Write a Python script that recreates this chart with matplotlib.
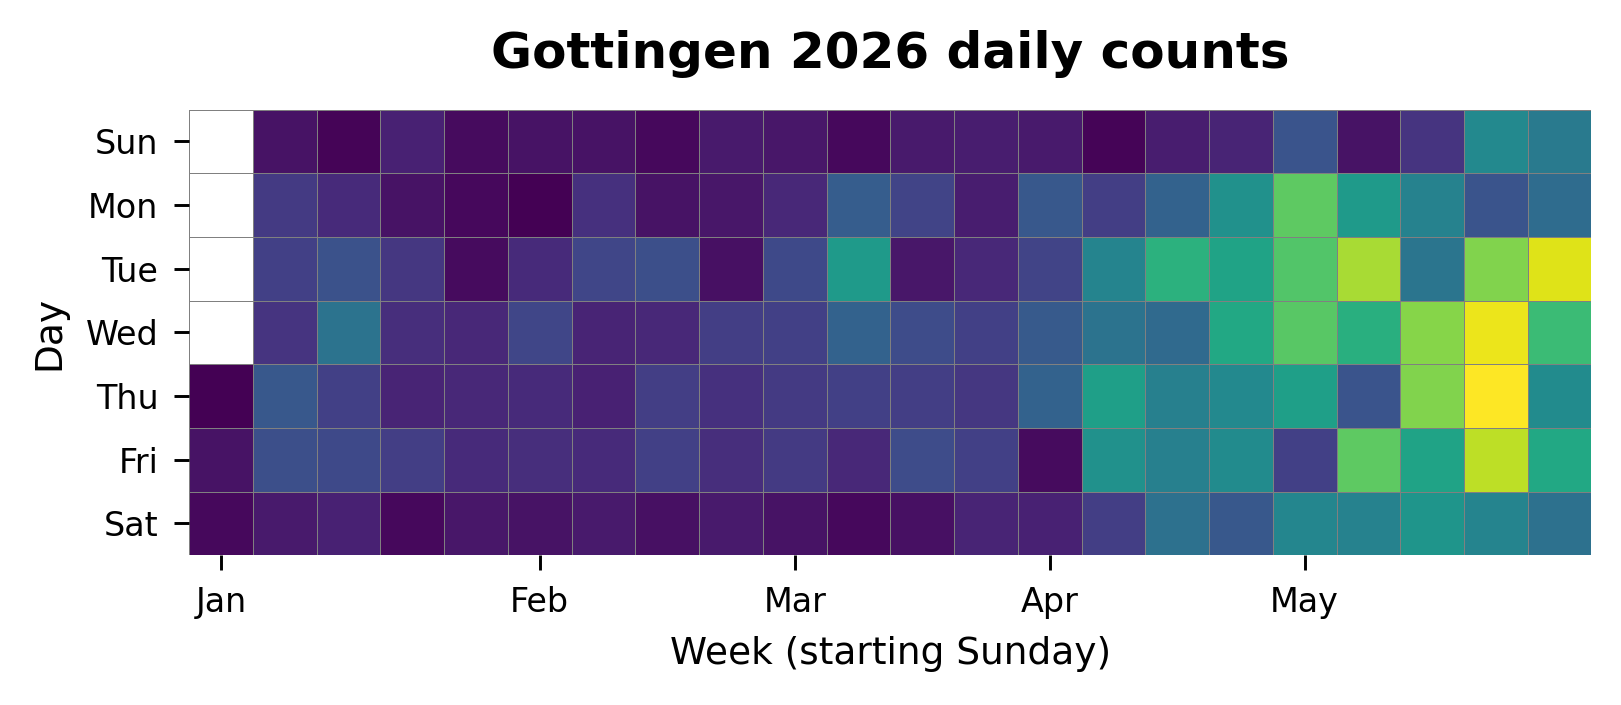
import numpy as np
import pandas as pd
import matplotlib
matplotlib.use("Agg")
import matplotlib.pyplot as plt

# daily counts per weekday, one value per week (week starts Sunday 2025-12-28)
nan = np.nan
sun = [nan, 5, 1, 9, 3, 5, 5, 2, 7, 6, 2, 7, 8, 7, 1, 8, 10, 26, 5, 15, 47, 41]
mon = [nan, 17, 12, 5, 2, 0, 14, 5, 6, 11, 29, 20, 8, 27, 18, 31, 50, 75, 54, 44, 26, 35]
tue = [nan, 19, 25, 16, 3, 12, 21, 24, 4, 22, 54, 6, 11, 20, 45, 64, 58, 73, 87, 39, 81, 95]
wed = [nan, 15, 38, 13, 11, 21, 10, 11, 18, 19, 31, 23, 19, 28, 38, 34, 60, 74, 63, 82, 97, 68]
thu = [0, 27, 19, 10, 11, 12, 9, 18, 14, 17, 19, 18, 16, 31, 56, 43, 47, 56, 26, 81, 100, 48]
fri = [5, 24, 22, 18, 12, 13, 12, 19, 13, 17, 11, 23, 19, 3, 50, 43, 48, 19, 75, 58, 90, 60]
sat = [2, 7, 9, 2, 6, 5, 7, 4, 7, 5, 2, 4, 10, 9, 18, 37, 27, 46, 44, 52, 45, 37]

day_labels = ["Sun", "Mon", "Tue", "Wed", "Thu", "Fri", "Sat"]
month_labels = ["Jan", "Feb", "Mar", "Apr", "May"]
first_week = pd.Timestamp("2025-12-28")

grid = np.array([sun, mon, tue, wed, thu, fri, sat], dtype=float)
data = np.ma.masked_invalid(grid)

fig = plt.figure(figsize=(8.105, 3.525), dpi=200)
ax = fig.add_axes([0.1167, 0.2123, 0.8651, 0.6322])

ax.pcolormesh(data, cmap="viridis", edgecolors="gray", linewidth=0.35,
              vmin=np.nanmin(grid), vmax=np.nanmax(grid))
ax.set_xlim(0, grid.shape[1])
ax.set_ylim(grid.shape[0], 0)

ax.set_yticks(np.arange(7) + 0.5)
ax.set_yticklabels(day_labels)

# month ticks at the week holding the 1st of each month
month_pos = []
for i in range(len(month_labels)):
    d = pd.Timestamp(2026, i + 1, 1)
    month_pos.append((d - first_week).days // 7 + 0.5)
ax.set_xticks(month_pos)
ax.set_xticklabels(month_labels)
ax.tick_params(labelsize=12, length=5.3, width=1.05, pad=5.8)

for s in ax.spines.values():
    s.set_visible(False)

ax.set_xlabel("Week (starting Sunday)", fontsize=13.5, labelpad=6)
ax.set_ylabel("Day", fontsize=13.5, labelpad=6.5)
ax.set_title("Gottingen 2026 daily counts", fontsize=18, fontweight="bold", pad=15)

fig.savefig("out.png", dpi=200)
